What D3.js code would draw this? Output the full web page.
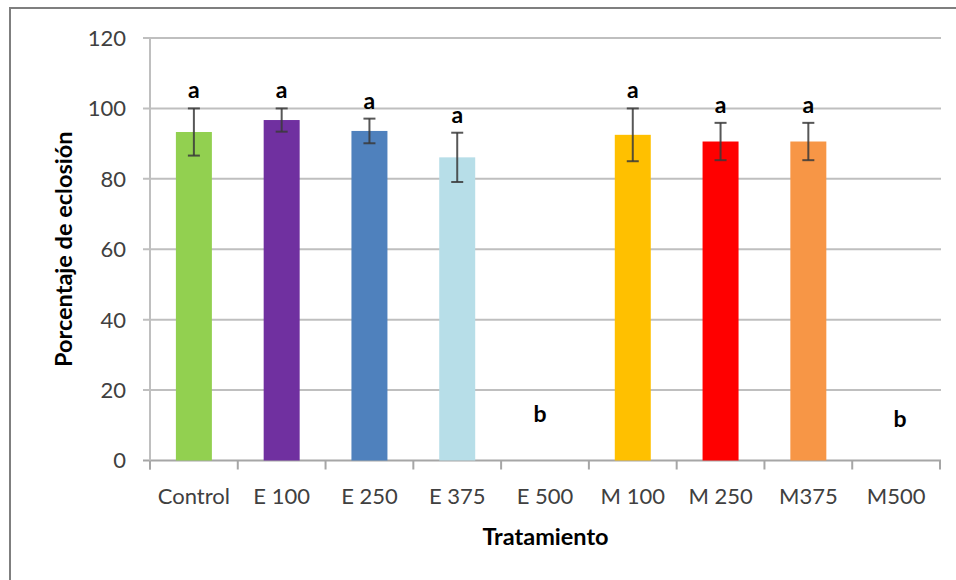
<!DOCTYPE html>
<html>
<head>
<meta charset="utf-8">
<script src="https://cdn.jsdelivr.net/npm/d3@7"></script>
<style>
  body { margin: 0; background: #fff; }
  text { font-family: Lato, "Open Sans", sans-serif; }
</style>
</head>
<body>
<script>
// chart data
var categories = ["Control", "E 100", "E 250", "E 375", "E 500", "M 100", "M 250", "M375", "M500"];
var values     = [93.3, 96.7, 93.6, 86.1, 0, 92.5, 90.6, 90.6, 0];
var errors     = [6.7, 3.3, 3.5, 7.0, 0, 7.5, 5.3, 5.3, 0];
var letters    = ["a", "a", "a", "a", "b", "a", "a", "a", "b"];
var barColors  = ["#92D050", "#7030A0", "#4F81BD", "#B7DEE8", "#FFFFFF", "#FFC000", "#FF0000", "#F79646", "#FFFFFF"];
var yTicks     = [0, 20, 40, 60, 80, 100, 120];

var w = 956, h = 580;
var margin = {top: 38, right: 15, bottom: 119, left: 150};

var svg = d3.select("body").append("svg")
    .attr("width", w)
    .attr("height", h);

// outer chart frame (only left/top edges visible in the crop)
svg.append("rect")
    .attr("x", 10).attr("y", 8)
    .attr("width", w + 20).attr("height", h + 20)
    .attr("fill", "none")
    .attr("stroke", "#7f7f7f")
    .attr("stroke-width", 2);

var x = d3.scaleBand()
    .domain(categories)
    .range([margin.left, w - margin.right - 1])
    .paddingInner(0.59)
    .paddingOuter(0.295);

var xTicks = d3.scaleBand()
    .domain(categories)
    .range([margin.left, w - margin.right - 1]);

var y = d3.scaleLinear()
    .domain([0, 120])
    .range([h - margin.bottom - 0.5, margin.top]);

// gridlines
svg.append("g").selectAll("line.grid")
    .data(yTicks)
    .enter().append("line")
    .attr("class", "grid")
    .attr("x1", margin.left - 7)
    .attr("x2", w - margin.right)
    .attr("y1", function(d) { return y(d); })
    .attr("y2", function(d) { return y(d); })
    .attr("stroke", function(d) { return d === 0 ? "#a6a6a6" : "#bfbfbf"; })
    .attr("stroke-width", 2);

// y axis line
svg.append("line")
    .attr("x1", margin.left).attr("x2", margin.left)
    .attr("y1", y(120)).attr("y2", y(0) + 9)
    .attr("stroke", "#bfbfbf")
    .attr("stroke-width", 2);

// y tick labels
svg.append("g").selectAll("text.ytick")
    .data(yTicks)
    .enter().append("text")
    .attr("class", "ytick")
    .attr("x", margin.left - 24)
    .attr("y", function(d) { return y(d); })
    .attr("dy", "0.36em")
    .attr("text-anchor", "end")
    .attr("font-size", "22px")
    .attr("fill", "#404040")
    .text(function(d) { return d; });

// x axis ticks
var tickPos = categories.map(function(c) { return xTicks(c); });
tickPos.push(xTicks(categories[categories.length - 1]) + xTicks.bandwidth());
svg.append("g").selectAll("line.xtick")
    .data(tickPos)
    .enter().append("line")
    .attr("class", "xtick")
    .attr("x1", function(d) { return d; })
    .attr("x2", function(d) { return d; })
    .attr("y1", y(0))
    .attr("y2", y(0) + 9)
    .attr("stroke", "#a6a6a6")
    .attr("stroke-width", 2);

// bars
svg.append("g").selectAll("rect.bar")
    .data(categories)
    .enter().append("rect")
    .attr("class", "bar")
    .attr("x", function(d) { return x(d); })
    .attr("y", function(d, i) { return y(values[i]); })
    .attr("width", x.bandwidth())
    .attr("height", function(d, i) { return y(0) - y(values[i]); })
    .attr("fill", function(d, i) { return barColors[i]; });

// error bars
var eb = svg.append("g").selectAll("g.err")
    .data(categories.filter(function(d, i) { return errors[i] > 0; }))
    .enter().append("g")
    .attr("class", "err")
    .attr("stroke", "#3a3a3a")
    .attr("stroke-opacity", 0.85)
    .attr("stroke-width", 2);

eb.each(function(d) {
    var i = categories.indexOf(d);
    var cx = x(d) + x.bandwidth() / 2;
    var g = d3.select(this);
    g.append("line").attr("x1", cx).attr("x2", cx)
        .attr("y1", y(values[i] + errors[i])).attr("y2", y(values[i] - errors[i]));
    g.append("line").attr("x1", cx - 6).attr("x2", cx + 6)
        .attr("y1", y(values[i] + errors[i])).attr("y2", y(values[i] + errors[i]));
    g.append("line").attr("x1", cx - 6).attr("x2", cx + 6)
        .attr("y1", y(values[i] - errors[i])).attr("y2", y(values[i] - errors[i]));
});

// significance letters ("b" boxes for empty bars were placed by hand in the original)
svg.append("g").selectAll("text.letter")
    .data(categories)
    .enter().append("text")
    .attr("class", "letter")
    .attr("x", function(d, i) {
        var cx = x(d) + x.bandwidth() / 2;
        if (values[i] === 0) return cx + (i > 5 ? 4 : -5);
        return cx;
    })
    .attr("y", function(d, i) {
        if (values[i] === 0) return y(0) - (i > 5 ? 34 : 39);
        return y(values[i] + errors[i]) - 10;
    })
    .attr("text-anchor", "middle")
    .attr("font-size", "23px")
    .attr("font-weight", "bold")
    .attr("fill", "#000")
    .text(function(d, i) { return letters[i]; });

// x tick labels
svg.append("g").selectAll("text.xlabel")
    .data(categories)
    .enter().append("text")
    .attr("class", "xlabel")
    .attr("x", function(d) { return xTicks(d) + xTicks.bandwidth() / 2; })
    .attr("y", y(0) + 43)
    .attr("text-anchor", "middle")
    .attr("font-size", "22px")
    .attr("fill", "#404040")
    .text(function(d) { return d; });

// axis titles
svg.append("text")
    .attr("x", (margin.left + w - margin.right) / 2)
    .attr("y", y(0) + 84)
    .attr("text-anchor", "middle")
    .attr("font-size", "23.5px")
    .attr("font-weight", "bold")
    .attr("fill", "#000")
    .text("Tratamiento");

svg.append("text")
    .attr("transform", "translate(72," + ((y(0) + y(120)) / 2) + ") rotate(-90)")
    .attr("text-anchor", "middle")
    .attr("font-size", "23.5px")
    .attr("font-weight", "bold")
    .attr("fill", "#000")
    .text("Porcentaje de eclosión");
</script>
</body>
</html>
